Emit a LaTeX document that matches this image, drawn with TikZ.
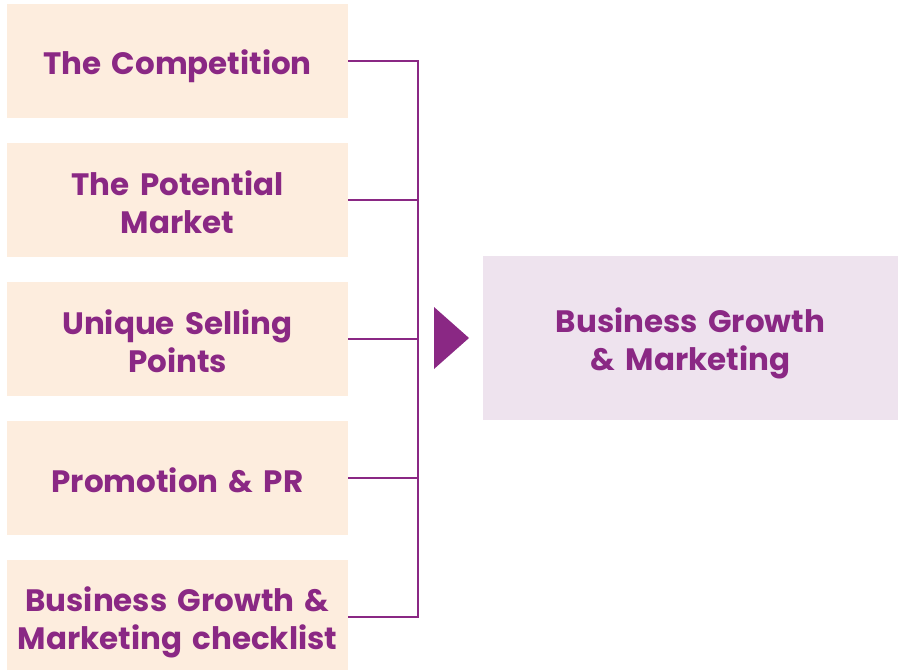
\documentclass[tikz,border=0pt]{standalone}
\usepackage{fontspec}
\setmainfont{Poppins}[WordSpace=1.5]
\usetikzlibrary{positioning}

\definecolor{plum}{RGB}{138,40,132}
\definecolor{peach}{RGB}{253,237,222}
\definecolor{lilac}{RGB}{238,227,238}

\begin{document}
\begin{tikzpicture}[
    x=0.025cm, y=-0.025cm,
    node distance=0.6125cm,
    card/.style={
        rectangle, text=plum, align=center, inner xsep=0.1cm,
        font=\bfseries\fontsize{22}{27}\selectfont,
        execute at begin node={\rule{0pt}{25pt}},
        execute at end node={\rule[-5pt]{0pt}{5pt}}
    },
    topic/.style={card, fill=peach, text width=8.3cm,
        minimum width=8.525cm, minimum height=2.85cm},
    goal/.style={card, fill=lilac, text width=10cm,
        minimum width=10.375cm, minimum height=4.1cm},
    link/.style={plum, line width=1.4pt},
]
\useasboundingbox (0,0) rectangle (898,669);

\node[topic] (comp) at (177.5,61) {The Competition};
\node[topic, below=of comp]   (market) {The Potential\\Market};
\node[topic, below=of market] (usp)    {Unique Selling\\Points};
\node[topic, below=of usp]    (promo)  {Promotion \& PR};
\node[topic, below=of promo]  (check)  {Business Growth \&\\Marketing checklist};

\node[goal] (growth) at (690.5,338) {Business Growth\\\& Marketing};

% bracket joining the five topics
\coordinate (join) at (418,338);
\draw[link] (comp.east) -- (comp.east -| join) -- (check.east -| join) -- (check.east);
\foreach \n in {market, usp, promo}
    \draw[link] (\n.east) -- (\n.east -| join);

\fill[plum] (434,307) -- (469,338) -- (434,369) -- cycle;

\end{tikzpicture}
\end{document}
